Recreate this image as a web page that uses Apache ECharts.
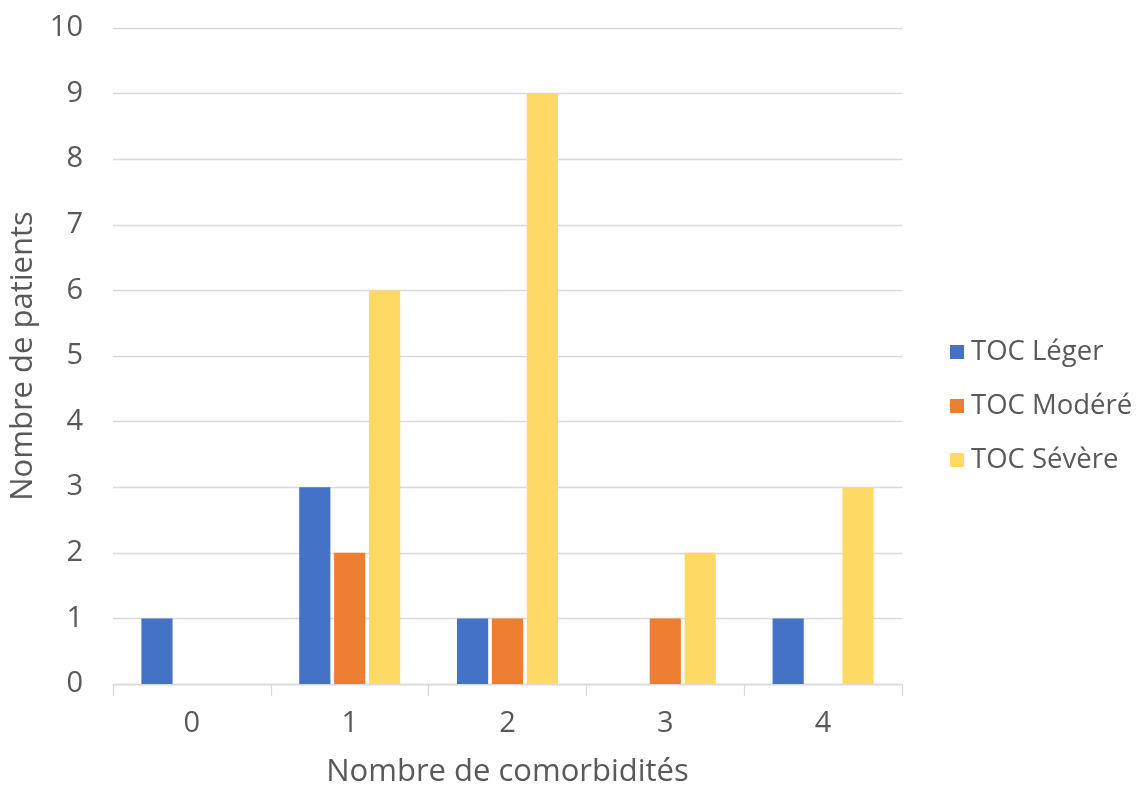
<!DOCTYPE html>
<html>
<head>
<meta charset="utf-8">
<script src="https://cdn.jsdelivr.net/npm/echarts@6/dist/echarts.min.js"></script>
<style>html,body{margin:0;padding:0;background:#fff}#c{width:1139px;height:787px}</style>
</head>
<body>
<div id="c"></div>
<script>
const categories = ['0', '1', '2', '3', '4'];
const seriesNames = ['TOC Léger', 'TOC Modéré', 'TOC Sévère'];
const leger = [1, 3, 1, 0, 1];
const modere = [0, 2, 1, 1, 0];
const severe = [0, 6, 9, 2, 3];
const colors = ['#4472C4', '#ED7D31', '#FFD966'];
const font = '"Open Sans", "Liberation Sans", sans-serif';

const chart = echarts.init(document.getElementById('c'), null, {renderer: 'canvas'});
const dataSets = [leger, modere, severe];
chart.setOption({
  animation: false,
  color: colors,
  grid: {left: 113, right: 237, top: 28, bottom: 103, containLabel: false, outerBoundsMode: 'none'},
  legend: {
    orient: 'vertical',
    left: 945, top: 332,
    itemWidth: 14, itemHeight: 14, itemGap: 24,
    icon: 'rect',
    textStyle: {fontFamily: font, fontSize: 27.5, lineHeight: 30, color: '#595959', padding: [0, 0, 0, 2]},
    data: seriesNames
  },
  xAxis: {
    type: 'category',
    data: categories,
    name: 'Nombre de comorbidités',
    nameLocation: 'middle',
    nameGap: 73,
    nameTextStyle: {fontFamily: font, fontSize: 31, color: '#595959'},
    axisLine: {lineStyle: {color: '#D9D9D9', width: 1.3}},
    axisTick: {show: true, length: 12, lineStyle: {color: '#D9D9D9', width: 1.3}},
    axisLabel: {fontFamily: font, fontSize: 29, color: '#595959', margin: 25}
  },
  yAxis: {
    type: 'value',
    min: 0, max: 10, interval: 1,
    name: 'Nombre de patients',
    nameLocation: 'middle',
    nameGap: 72,
    nameTextStyle: {fontFamily: font, fontSize: 31, color: '#595959'},
    axisLine: {show: false},
    axisTick: {show: false},
    splitLine: {lineStyle: {color: '#D9D9D9', width: 1.3}},
    axisLabel: {fontFamily: font, fontSize: 29, color: '#595959', margin: 30}
  },
  series: seriesNames.map((n, i) => ({
    name: n,
    type: 'bar',
    data: dataSets[i],
    barGap: '12%',
    barCategoryGap: '36%',
    itemStyle: {color: colors[i]}
  }))
});
</script>
</body>
</html>
